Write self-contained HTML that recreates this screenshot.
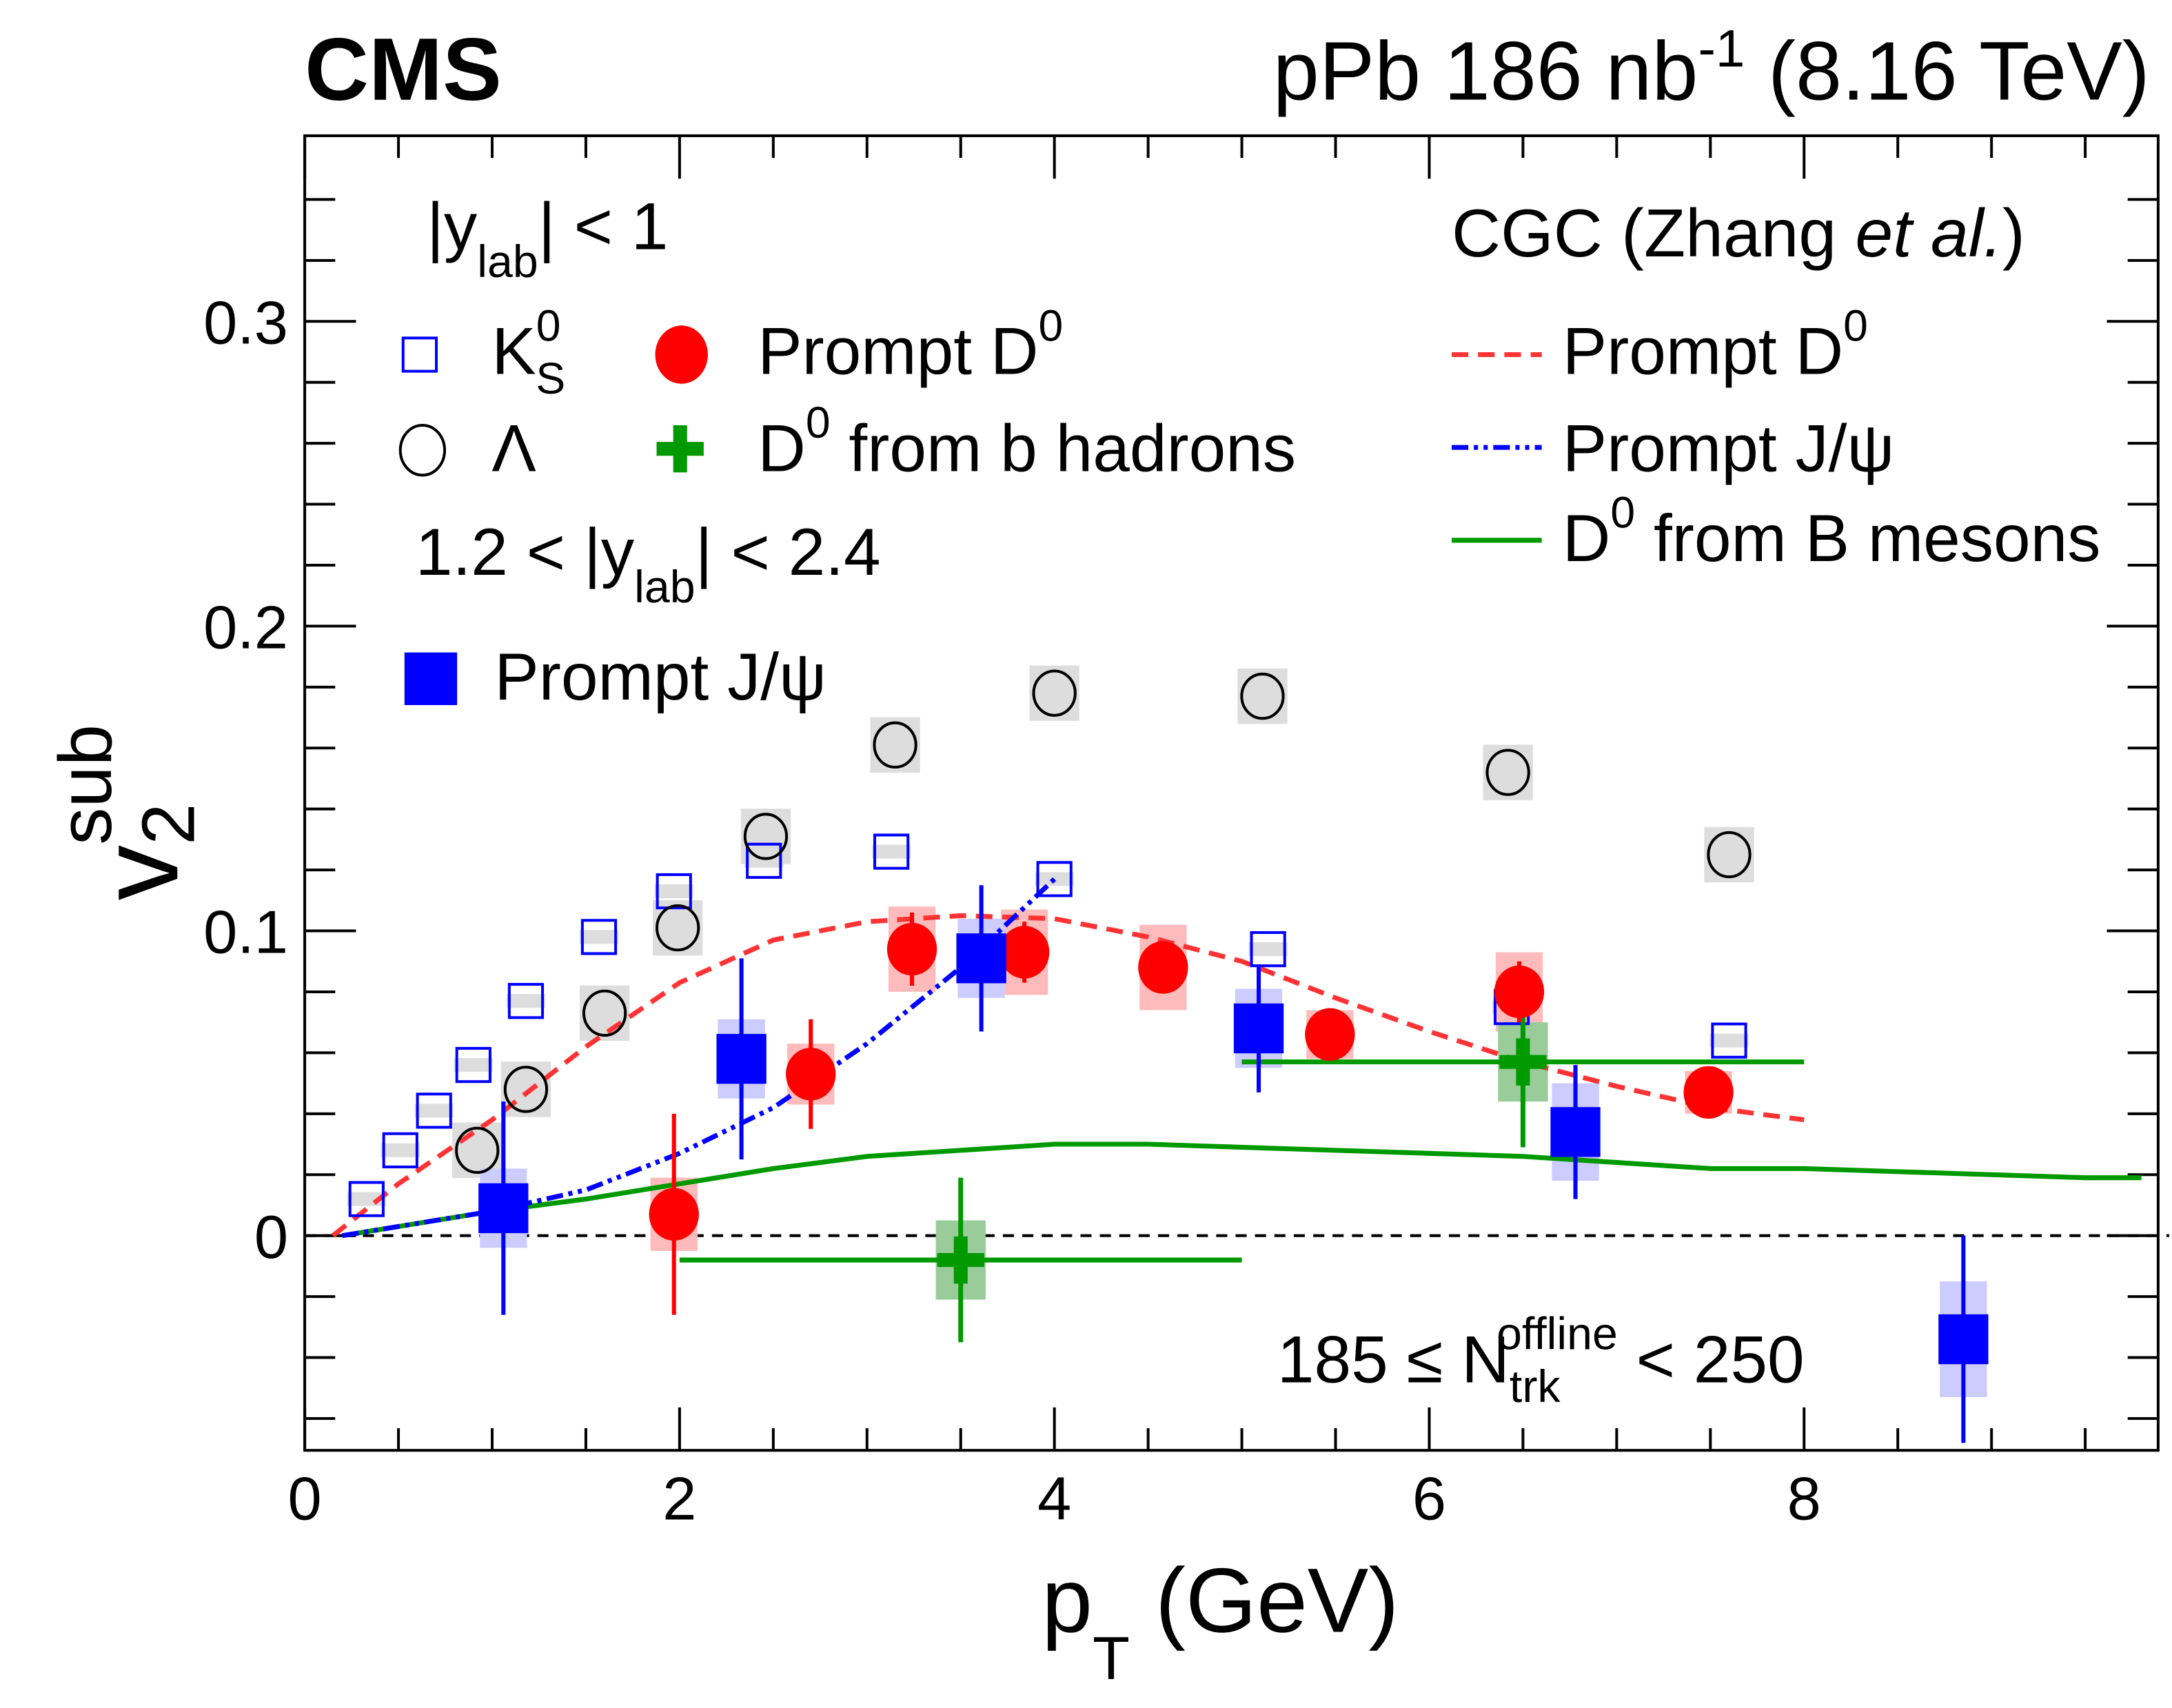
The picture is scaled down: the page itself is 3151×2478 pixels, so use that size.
<!DOCTYPE html>
<html><head><meta charset="utf-8"><style>html,body{margin:0;padding:0;background:#fff}svg{display:block}text{font-family:"Liberation Sans",sans-serif}</style></head>
<body>
<svg id="chart" width="3151" height="2478" viewBox="0 0 1568 1233" preserveAspectRatio="none" xmlns="http://www.w3.org/2000/svg">
<g id="plot"></g>
<g id="legend">
<text x="220" y="72" font-size="64" font-weight="bold">CMS</text>
<text x="1552" y="72" font-size="60" text-anchor="end">pPb 186 nb<tspan dy="-24" font-size="38">-1</tspan><tspan dy="24"> (8.16 TeV)</tspan></text>
<text x="308" y="180" font-size="48">|y<tspan dy="20" font-size="33">lab</tspan><tspan dy="-20">| &lt; 1</tspan></text>
<rect x="291" y="244" width="24" height="24" fill="none" stroke="#0000ff" stroke-width="2"/>
<text x="355" y="270" font-size="48">K<tspan dy="-24" font-size="32">0</tspan><tspan dx="-18" dy="38" font-size="32">S</tspan></text>
<ellipse cx="492" cy="256" rx="19" ry="21" fill="#ff0000"/>
<text x="547" y="270" font-size="48">Prompt D<tspan dy="-24" font-size="32">0</tspan></text>
<ellipse cx="305" cy="325" rx="16" ry="18" fill="none" stroke="#000" stroke-width="2"/>
<text x="355" y="340" font-size="48" font-family="Liberation Serif, serif">Λ</text>
<path d="M486 307h10v12h12v10h-12v12h-10v-12h-12v-10h12z" fill="#009900"/>
<text x="547" y="340" font-size="48">D<tspan dy="-24" font-size="32">0</tspan><tspan dy="24"> from b hadrons</tspan></text>
<text x="300" y="415" font-size="48">1.2 &lt; |y<tspan dy="20" font-size="33">lab</tspan><tspan dy="-20">| &lt; 2.4</tspan></text>
<rect x="292" y="471" width="38" height="38" fill="#0000ff"/>
<text x="357" y="505" font-size="48">Prompt J/ψ</text>
<text x="1048" y="185" font-size="49">CGC (Zhang <tspan font-style="italic">et al.</tspan>)</text>
<line x1="1048" y1="256" x2="1113" y2="256" stroke="#ff3333" stroke-width="3.5" stroke-dasharray="12,7"/>
<text x="1128" y="270" font-size="48">Prompt D<tspan dy="-24" font-size="32">0</tspan></text>
<line x1="1048" y1="323" x2="1113" y2="323" stroke="#0000ff" stroke-width="3.5" stroke-dasharray="12,4,3,4,3,4"/>
<text x="1128" y="340" font-size="48">Prompt J/ψ</text>
<line x1="1048" y1="390" x2="1113" y2="390" stroke="#009900" stroke-width="3.5"/>
<text x="1128" y="405" font-size="48">D<tspan dy="-24" font-size="32">0</tspan><tspan dy="24"> from B mesons</tspan></text>
<text x="922" y="998" font-size="48">185 ≤ N<tspan dy="14" font-size="33">trk</tspan><tspan dx="-46" dy="-38" font-size="33">offline</tspan><tspan dy="24"> &lt; 250</tspan></text>
<text x="752" y="1178" font-size="66">p<tspan dy="34" font-size="44">T</tspan><tspan dy="-34"> (GeV)</tspan></text>
<text transform="translate(128,650) rotate(-90)" font-size="80">v<tspan dy="12" font-size="54">2</tspan><tspan dx="-30" dy="-60" font-size="54">sub</tspan></text>
</g>
<script>
const xTicks=[0,2,4,6,8];
const yTicks=[0,0.1,0.2,0.3];
const yTickLabels=["0","0.1","0.2","0.3"];
const k0sX=[0.33,0.51,0.69,0.9,1.18,1.57,1.97,2.45,3.13,4.0,5.14,6.44,7.6];
const k0sY=[0.012,0.028,0.041,0.056,0.077,0.098,0.113,0.123,0.126,0.117,0.094,0.075,0.064];
const lamX=[0.92,1.18,1.6,1.99,2.46,3.15,4.0,5.11,6.42,7.6];
const lamY=[0.028,0.048,0.073,0.101,0.131,0.161,0.178,0.177,0.152,0.125];
const d0X=[1.97,2.7,3.24,3.84,4.58,5.47,6.48,7.49];
const d0Y=[0.007,0.053,0.094,0.093,0.088,0.066,0.080,0.047];
const d0Err=[0.033,0.018,0.012,0.01,0.008,0.006,0.01,0.008];
const d0Sys=[0.012,0.01,0.014,0.014,0.014,0.008,0.013,0.007];
const jpX=[1.06,2.33,3.61,5.09,6.78,8.85];
const jpY=[0.009,0.058,0.091,0.068,0.034,-0.034];
const jpErr=[0.035,0.033,0.024,0.021,0.022,0.034];
const jpSys=[0.013,0.013,0.013,0.013,0.016,0.019];
const bX=[3.5,6.5];
const bY=[-0.008,0.057];
const bErr=[0.027,0.028];
const bXLo=[2,5];
const bXHi=[5,8];
const cgcD0X=[0.15,0.5,1,1.5,2,2.5,3,3.5,4,4.5,5,5.5,6,6.5,7,7.5,8];
const cgcD0Y=[0,0.017,0.038,0.062,0.083,0.097,0.103,0.105,0.104,0.098,0.09,0.078,0.067,0.057,0.049,0.042,0.038];
const cgcJpX=[0.2,0.5,1,1.5,2,2.5,3,3.5,4];
const cgcJpY=[0,0.003,0.008,0.015,0.027,0.042,0.063,0.088,0.117];
const cgcBX=[0.2,0.5,1,1.5,2,2.5,3,3.5,4,4.5,5,5.5,6,6.5,7,7.5,8,8.5,9,9.5,9.8];
const cgcBY=[0,0.003,0.008,0.012,0.017,0.022,0.026,0.028,0.030,0.030,0.029,0.028,0.027,0.026,0.024,0.022,0.022,0.021,0.020,0.019,0.019];

const X=v=>220+v*135.3, Y=v=>892-v*2200;
const L=220,R=1558,T=98,B=1047;
const NS="http://www.w3.org/2000/svg";
const g=document.getElementById('plot');
function mk(tag,attrs,name){const e=document.createElementNS(NS,tag);for(const k in attrs)e.setAttribute(k,attrs[k]);


g.appendChild(e);return e;}
mk('line',{x1:L,x2:R+8,y1:Y(0),y2:Y(0),stroke:'#000','stroke-width':2,'stroke-dasharray':'8,6'},'zero-line');
mk('rect',{x:L,y:T,width:R-L,height:B-T,fill:'none',stroke:'#000','stroke-width':2},'plot-frame');
for(let v=0;v<=9.9;v+=0.5){const maj=Math.abs(v%2)<1e-6;const len=maj?31:16;
mk('line',{x1:X(v),x2:X(v),y1:B,y2:B-len,stroke:'#000','stroke-width':2},'x-tick');
mk('line',{x1:X(v),x2:X(v),y1:T,y2:T+len,stroke:'#000','stroke-width':2},'x-tick-top');}
xTicks.forEach(v=>{const t=mk('text',{x:X(v),y:1097,'font-size':44,'text-anchor':'middle'},'x-tick-label');t.textContent=v;});
for(let i=-3;i<=17;i++){const v=i*0.02;const maj=i%5===0;const len=maj?37:22;
mk('line',{x1:L,x2:L+len,y1:Y(v),y2:Y(v),stroke:'#000','stroke-width':2},'y-tick');
mk('line',{x1:R,x2:R-len,y1:Y(v),y2:Y(v),stroke:'#000','stroke-width':2},'y-tick-right');}
yTicks.forEach((v,i)=>{const t=mk('text',{x:208,y:Y(v)+16,'font-size':44,'text-anchor':'end'},'y-tick-label');t.textContent=yTickLabels[i];});
k0sX.forEach((x,i)=>mk('rect',{x:X(x)-14,y:Y(k0sY[i])-5,width:28,height:10,fill:'#dddddd'},'k0s-syst'));
lamX.forEach((x,i)=>mk('rect',{x:X(x)-18,y:Y(lamY[i])-20,width:36,height:40,fill:'#dddddd'},'lambda-syst'));
d0X.forEach((x,i)=>mk('rect',{x:X(x)-17,y:Y(d0Y[i]+d0Sys[i]),width:34,height:d0Sys[i]*4400,fill:'#ffbbbb'},'d0-syst'));
jpX.forEach((x,i)=>mk('rect',{x:X(x)-17,y:Y(jpY[i]+jpSys[i]),width:34,height:jpSys[i]*4400,fill:'#ccccff'},'jpsi-syst'));
bX.forEach((x,i)=>mk('rect',{x:X(x)-18,y:Y(bY[i]+0.013),width:36,height:0.026*2200,fill:'#99cc99'},'d0b-syst'));
const path=(xs,ys)=>xs.map((x,i)=>(i?'L':'M')+X(x).toFixed(1)+' '+Y(ys[i]).toFixed(1)).join(' ');
mk('path',{d:path(cgcBX,cgcBY),fill:'none',stroke:'#009900','stroke-width':3.5},'cgc-d0-from-b-curve');
mk('path',{d:path(cgcD0X,cgcD0Y),fill:'none',stroke:'#ff3333','stroke-width':3.5,'stroke-dasharray':'12,7'},'cgc-prompt-d0-curve');
mk('path',{d:path(cgcJpX,cgcJpY),fill:'none',stroke:'#0000ff','stroke-width':3.5,'stroke-dasharray':'12,4,3,4,3,4'},'cgc-prompt-jpsi-curve');
k0sX.forEach((x,i)=>mk('rect',{x:X(x)-12,y:Y(k0sY[i])-12,width:24,height:24,fill:'none',stroke:'#0000ff','stroke-width':2},'k0s-point'));
lamX.forEach((x,i)=>mk('ellipse',{cx:X(x),cy:Y(lamY[i]),rx:15,ry:16,fill:'none',stroke:'#000','stroke-width':2},'lambda-point'));
bX.forEach((x,i)=>{mk('line',{x1:X(bXLo[i]),x2:X(bXHi[i]),y1:Y(bY[i]),y2:Y(bY[i]),stroke:'#009900','stroke-width':3.5},'d0b-xerr');
mk('line',{x1:X(x),x2:X(x),y1:Y(bY[i]-bErr[i]),y2:Y(bY[i]+bErr[i]),stroke:'#009900','stroke-width':3.5},'d0b-yerr');
const cx=X(x),cy=Y(bY[i]);mk('path',{d:`M${cx-5} ${cy-17}h10v12h12v10h-12v12h-10v-12h-12v-10h12z`,fill:'#009900'},'d0b-point');});
d0X.forEach((x,i)=>{mk('line',{x1:X(x),x2:X(x),y1:Y(d0Y[i]-d0Err[i]),y2:Y(d0Y[i]+d0Err[i]),stroke:'#ff0000','stroke-width':3},'d0-err');
mk('ellipse',{cx:X(x),cy:Y(d0Y[i]),rx:18,ry:19,fill:'#ff0000'},'d0-point');});
jpX.forEach((x,i)=>{mk('line',{x1:X(x),x2:X(x),y1:Y(jpY[i]-jpErr[i]),y2:Y(jpY[i]+jpErr[i]),stroke:'#0000ff','stroke-width':3},'jpsi-err');
mk('rect',{x:X(x)-18,y:Y(jpY[i])-18,width:36,height:36,fill:'#0000ff'},'jpsi-point');});
</script>
</svg>
</body></html>
